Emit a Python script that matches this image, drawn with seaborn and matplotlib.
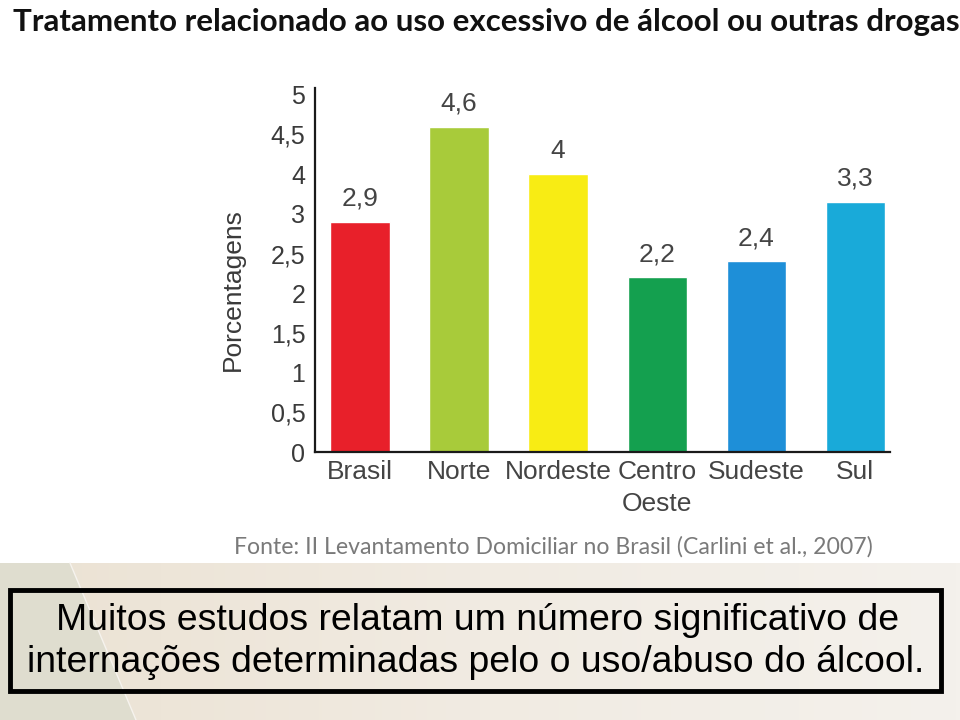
import numpy as np
import pandas as pd
import matplotlib
matplotlib.use("Agg")
import matplotlib.pyplot as plt
import seaborn as sns
from matplotlib.patches import Rectangle, Polygon
from matplotlib.colors import LinearSegmentedColormap

# ---- data ----
categories = ["Brasil", "Norte", "Nordeste", "Centro\nOeste", "Sudeste", "Sul"]
values = [2.9, 4.6, 4.0, 2.2, 2.4, 3.3]
value_labels = ["2,9", "4,6", "4", "2,2", "2,4", "3,3"]
bar_colors = ["#e8202a", "#a8cb3a", "#f8ec14", "#14a04f", "#1e8fd8", "#19aad9"]
# the original axis has evenly spaced labels but no "3,5" label
yticks = [0, 0.5, 1, 1.5, 2, 2.5, 3, 4, 4.5, 5]
ytick_labels = ["0", "0,5", "1", "1,5", "2", "2,5", "3", "4", "4,5", "5"]

title = "Tratamento relacionado ao uso excessivo de álcool ou outras drogas"
source = "Fonte: II Levantamento Domiciliar no Brasil (Carlini et al., 2007)"
message = ["Muitos estudos relatam um número significativo de",
           "internações determinadas pelo o uso/abuso do álcool."]

sns.set_theme(style="white")
plt.rcParams["font.family"] = ["Liberation Sans", "DejaVu Sans"]

W, H = 960, 720
fig = plt.figure(figsize=(9.6, 7.2), dpi=100)
fig.patch.set_facecolor("white")

# ---- background (slide) ----
bg = fig.add_axes([0, 0, 1, 1], zorder=-5)
bg.set_xlim(0, W)
bg.set_ylim(H, 0)
bg.axis("off")
grad = np.linspace(0, 1, 256).reshape(1, -1)
cmap = LinearSegmentedColormap.from_list("g", ["#ebe2d3", "#f1ebe2", "#f4f1ec"])
bg.imshow(grad, cmap=cmap, extent=[0, W, 720, 563], aspect="auto", zorder=0)
bg.add_patch(Polygon([[0, 563], [70, 563], [136, 720], [0, 720]],
                     closed=True, facecolor="#dfddcf", edgecolor="none", zorder=1))
bg.plot([70, 136], [563, 720], color="#f6f3ee", lw=1.0, zorder=2)
bg.add_patch(Rectangle((10, 590), 931, 101, facecolor="none",
                       edgecolor="black", lw=3.5, zorder=3))
bg.text(478, 620, message[0], ha="center", va="center", fontsize=26.9,
        color="black", zorder=4)
bg.text(476, 662, message[1], ha="center", va="center", fontsize=26.9,
        color="black", zorder=4)
bg.text(486, 22, title, ha="center", va="center", fontsize=22.5,
        fontweight="bold", color="#111111", family=["Lato", "DejaVu Sans"])
bg.text(553, 547, source, ha="center", va="center", fontsize=16.6,
        color="#7a7a7a", family=["Lato", "DejaVu Sans"])

# ---- chart ----
ax = fig.add_axes([315 / W, 1 - 452 / H, (890 - 315) / W, (452 - 88) / H])
df = pd.DataFrame({"regiao": categories, "pct": values})
sns.barplot(data=df, x="regiao", y="pct", hue="regiao", palette=bar_colors,
            legend=False, width=0.6, ax=ax, saturation=1)

# piecewise scale reproducing the original's tick layout (no 3,5 step)
_v = [0, 3, 4, 6]
_p = [0, 6, 7, 11]
ax.set_yscale("function", functions=(lambda y: np.interp(y, _v, _p),
                                     lambda t: np.interp(t, _p, _v)))
ax.set_xlim(-0.455, 5.35)
ax.set_ylim(0, 5.085)
ax.set_facecolor("none")
for s in ["top", "right"]:
    ax.spines[s].set_visible(False)
for s in ["left", "bottom"]:
    ax.spines[s].set_color("#1a1a1a")
    ax.spines[s].set_linewidth(1.6)
ax.set_yticks(yticks)
ax.set_yticklabels(ytick_labels, fontsize=18, color="#3a3a3a")
ax.yaxis.set_minor_locator(matplotlib.ticker.NullLocator())
ax.tick_params(axis="both", which="both", length=0)
ax.tick_params(axis="y", pad=7)
ax.tick_params(axis="x", pad=6)
for lbl in ax.get_xticklabels():
    lbl.set_fontsize(19)
    lbl.set_color("#444444")
    lbl.set_linespacing(1.4)
ax.set_xlabel("")
ax.set_ylabel("Porcentagens", fontsize=19, color="#3a3a3a")
ax.yaxis.set_label_coords(-0.122, 0.445)
for patch, lab in zip(ax.patches, value_labels):
    ax.annotate(lab, (patch.get_x() + patch.get_width() / 2, patch.get_height()),
                xytext=(0, 8), textcoords="offset points", ha="center",
                va="bottom", fontsize=19, color="#444444")

fig.savefig("out.png", dpi=100, facecolor=fig.get_facecolor())
